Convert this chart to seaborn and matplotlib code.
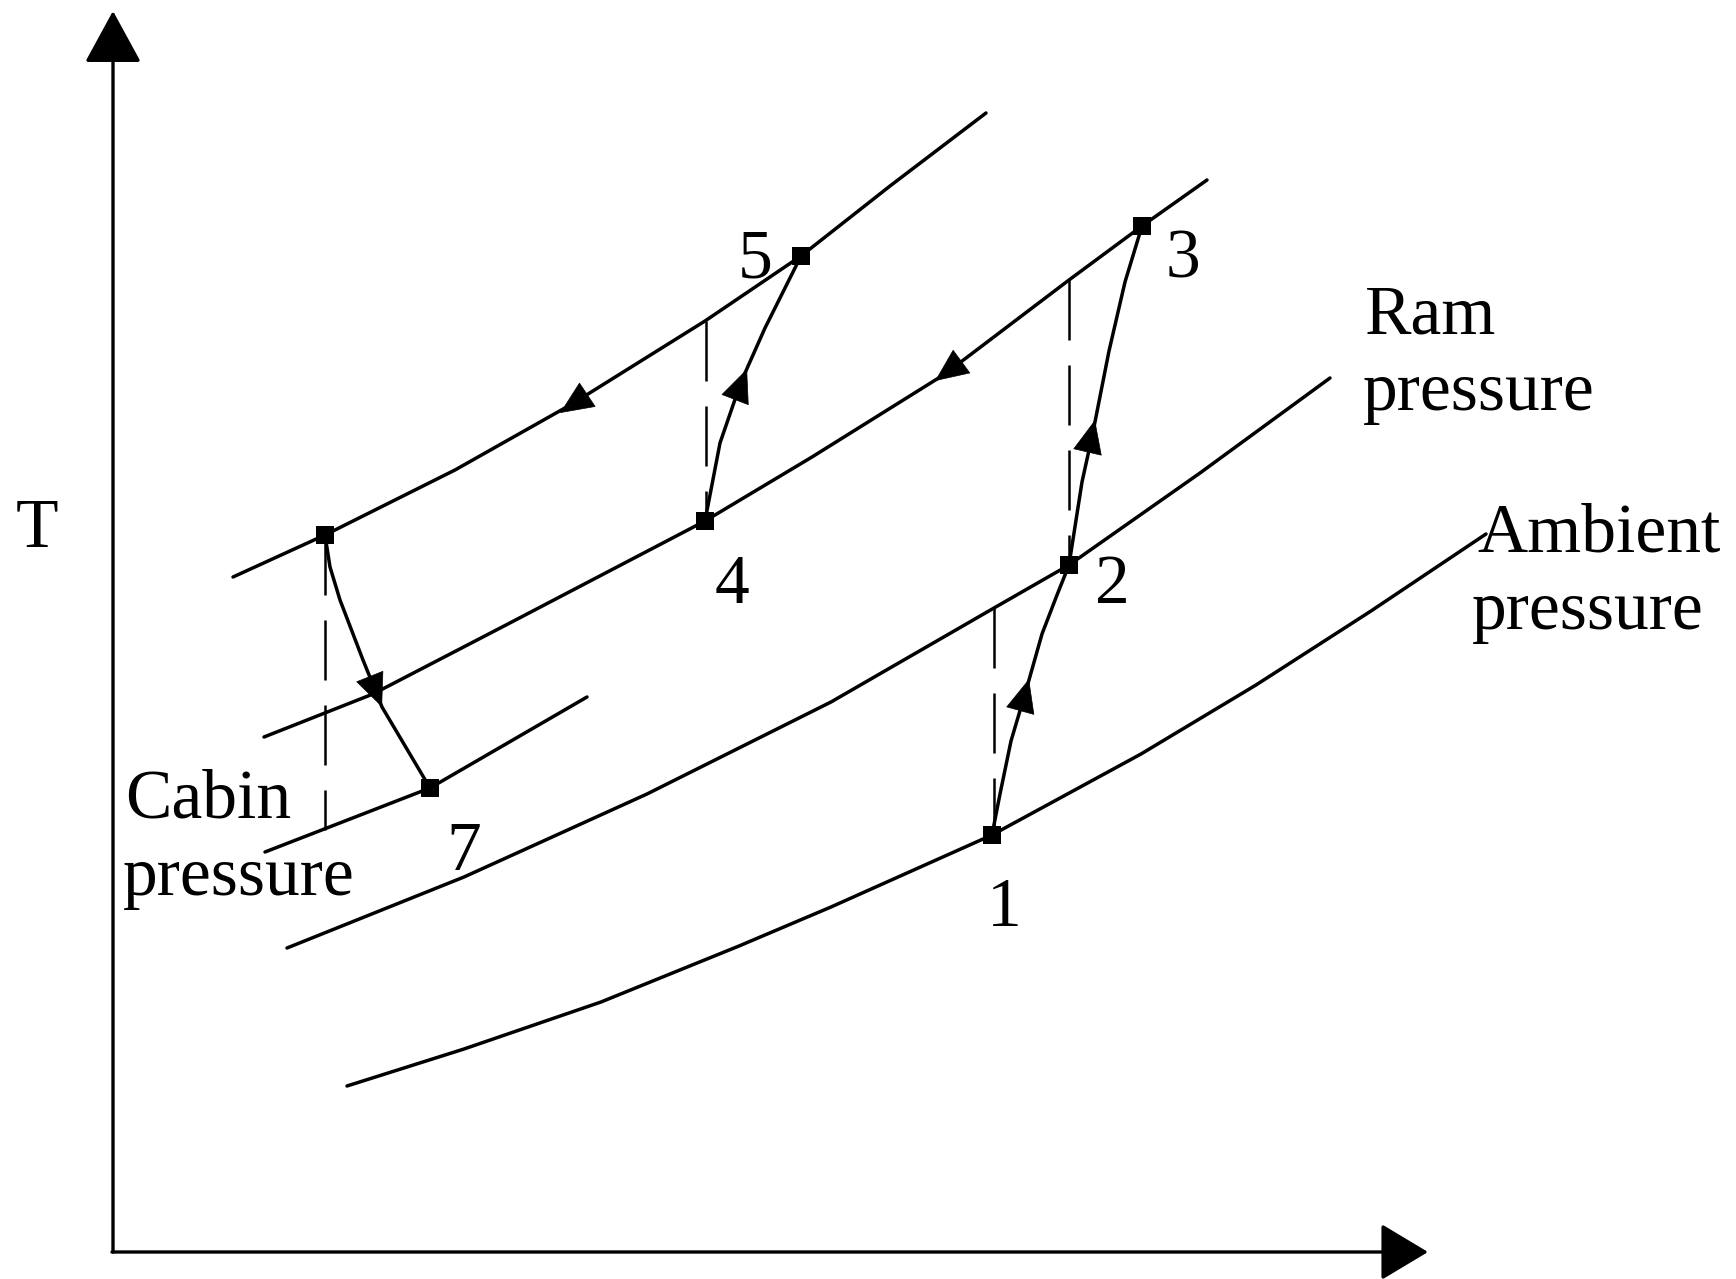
import pandas as pd
import numpy as np
import matplotlib
matplotlib.use("Agg")
import matplotlib.pyplot as plt
import seaborn as sns

# T-s sketch of the air cycle (arbitrary units)
# constant pressure lines
high_s = [233, 325, 455, 572, 705, 801, 890, 986]
high_T = [702, 744, 809, 875, 958, 1023, 1093, 1166]

bleed_s = [264, 373, 506, 705, 812, 945, 1069, 1142, 1207]
bleed_T = [542, 585, 654, 758, 822, 905, 999, 1053, 1099]

ram_s = [287, 464, 647, 831, 994, 1069, 1200, 1330]
ram_T = [331, 402, 485, 577, 671, 714, 806, 901]

amb_s = [347, 464, 601, 739, 831, 992, 1141, 1256, 1371, 1486]
amb_T = [193, 230, 277, 333, 372, 444, 525, 594, 668, 745]

cabin_s = [265, 430, 587]
cabin_T = [427, 491, 582]

# processes between states
p12_s = [992, 1000, 1011, 1027, 1042, 1057, 1069]
p12_T = [444, 485, 538, 592, 645, 684, 714]
p23_s = [1069, 1082, 1093, 1109, 1125, 1142]
p23_T = [714, 797, 847, 928, 997, 1053]
p45_s = [705, 720, 741, 765, 801]
p45_T = [758, 836, 897, 951, 1023]
p67_s = [325, 330, 340, 363, 382, 430]
p67_T = [744, 712, 679, 619, 572, 491]

# isentropic (dashed) references
dash_s = [325, 706, 1069, 994]
dash_top = [744, 958, 999, 671]
dash_bot = [449, 758, 714, 444]

# state points
state_s = [992, 1069, 1142, 705, 801, 325, 430]
state_T = [444, 714, 1053, 758, 1023, 744, 491]
num_labels = ["1", "2", "3", "4", "5", "7"]
num_s = [1004, 1112, 1183, 732, 755, 464]
num_T = [353, 676, 1002, 676, 1001, 409]

# flow direction arrows (tail -> tip)
arr_tail = [(605, 896), (980, 931), (1018, 560), (1088, 829), (735, 879), (368, 607)]
arr_tip = [(560, 866), (935, 898), (1029, 600), (1095, 859), (747, 910), (382, 572)]

# axes
origin = (113, 27)
t_tip = (113, 1268)
s_tip = (1428, 27)


def to_long(names, xs, ys):
    rows = []
    for n, x, y in zip(names, xs, ys):
        for a, b in zip(x, y):
            rows.append((n, a, b))
    return pd.DataFrame(rows, columns=["line", "s", "T"])


sns.set_style("white")
plt.rcParams["font.family"] = ["Liberation Serif", "DejaVu Serif"]

fig = plt.figure(figsize=(17.36, 12.79), dpi=100)
ax = fig.add_axes([0, 0, 1, 1])

curves = to_long(["high", "bleed", "ram", "amb", "cabin", "p12", "p23", "p45", "p67"],
                 [high_s, bleed_s, ram_s, amb_s, cabin_s, p12_s, p23_s, p45_s, p67_s],
                 [high_T, bleed_T, ram_T, amb_T, cabin_T, p12_T, p23_T, p45_T, p67_T])
sns.lineplot(data=curves, x="s", y="T", units="line", estimator=None, sort=False,
             color="black", lw=2.5, legend=False, ax=ax)

dashed = to_long(range(len(dash_s)), [[s, s] for s in dash_s],
                 [[a, b] for a, b in zip(dash_top, dash_bot)])
sns.lineplot(data=dashed, x="s", y="T", units="line", estimator=None, sort=False,
             color="black", lw=1.8, linestyle=(0, (24, 10)), legend=False, ax=ax)

sns.scatterplot(x=state_s, y=state_T, marker="s", s=170, color="black",
                linewidth=0, ax=ax, zorder=5)

for tail, tip in zip(arr_tail, arr_tip):
    ax.annotate("", xy=tip, xytext=tail,
                arrowprops=dict(arrowstyle="-|>,head_length=0.5,head_width=0.22",
                                color="black", lw=0.5, shrinkA=0, shrinkB=0,
                                mutation_scale=46))

# coordinate axes
ax.annotate("", xy=t_tip, xytext=origin,
            arrowprops=dict(arrowstyle="-|>,head_length=0.66,head_width=0.36",
                            color="black", lw=2.4, shrinkA=0, shrinkB=0, mutation_scale=50))
ax.annotate("", xy=s_tip, xytext=(origin[0] - 1, origin[1]),
            arrowprops=dict(arrowstyle="-|>,head_length=0.6,head_width=0.36",
                            color="black", lw=2.4, shrinkA=0, shrinkB=0, mutation_scale=50))

fs = 50
for lab, x, y in zip(num_labels, num_s, num_T):
    ax.text(x, y, lab, fontsize=fs, ha="center", va="baseline", color="black")

ax.text(37, 732, "T", fontsize=fs, ha="center", va="baseline", color="black")
ax.text(1365, 946, "Ram", fontsize=fs, ha="left", va="baseline", color="black")
ax.text(1363, 869, "pressure", fontsize=fs, ha="left", va="baseline", color="black")
ax.text(1477, 727, "Ambient", fontsize=fs, ha="left", va="baseline", color="black")
ax.text(1472, 650, "pressure", fontsize=fs, ha="left", va="baseline", color="black")
ax.text(125, 462, "Cabin", fontsize=fs, ha="left", va="baseline", color="black")
ax.text(123, 384, "pressure", fontsize=fs, ha="left", va="baseline", color="black")

ax.set_xlim(0, 1736)
ax.set_ylim(0, 1279)
ax.axis("off")

fig.savefig("out.png", dpi=100, facecolor="white")
